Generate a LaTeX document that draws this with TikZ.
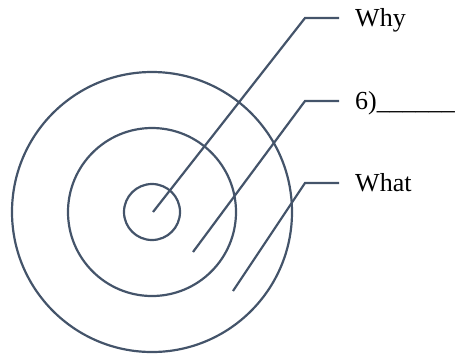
\documentclass[tikz,border=0pt]{standalone}
\usepackage{fontspec}
\setmainfont{Liberation Serif}
\definecolor{pizarra}{HTML}{44546A}
\tikzset{
  anillo/.style={draw=pizarra, line width=2.2pt, circle, inner sep=0pt},
  enlace/.style={draw=pizarra, line width=2.2pt, line cap=butt},
  etiqueta/.style={anchor=base west, inner xsep=16pt, inner ysep=0pt,
    text height=16pt, text depth=0pt, font=\fontsize{26}{30}\selectfont}
}
\begin{document}
\begin{tikzpicture}[x=1pt, y=-1pt]
  \useasboundingbox (0,0) rectangle (462,354);

  % Circulos concentricos
  \node[anillo, minimum size=280pt] (exterior) at (152,212) {};
  \node[anillo, minimum size=168pt] (medio) at (152,212) {};
  \node[anillo, minimum size=56pt] (interior) at (152,212) {};

  % Puntos de partida
  \coordinate (p-why) at (153,212);
  \coordinate (p-seis) at (193,252);
  \coordinate (p-what) at (233,291);

  % Etiquetas
  \node[etiqueta] (why) at (339,26) {Why};
  \node[etiqueta] (seis) at (339,109) {6)\_\_\_\_\_\_};
  \node[etiqueta] (what) at (339,191) {What};

  % Lineas de llamada
  \draw[enlace] (p-why) -- ([xshift=-34pt]why.west) -- (why.west);
  \draw[enlace] (p-seis) -- ([xshift=-34pt]seis.west) -- (seis.west);
  \draw[enlace] (p-what) -- ([xshift=-34pt]what.west) -- (what.west);
\end{tikzpicture}
\end{document}
